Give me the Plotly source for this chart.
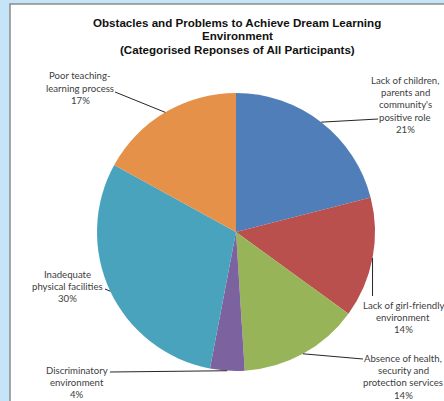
import math
import plotly.graph_objects as go

W, H = 444, 401

# Survey categories (clockwise from 12 o'clock) and their shares in percent
categories = [
    "Lack of children, parents and community's positive role",
    "Lack of girl-friendly environment",
    "Absence of health, security and protection services",
    "Discriminatory environment",
    "Inadequate physical facilities",
    "Poor teaching-learning process",
]
shares = [21, 14, 14, 4, 30, 17]
label_lines = [
    ["Lack of children,", "parents and", "community's", "positive role"],
    ["Lack of girl-friendly", "environment"],
    ["Absence of health,", "security and", "protection services"],
    ["Discriminatory", "environment"],
    ["Inadequate", "physical facilities"],
    ["Poor teaching-", "learning process"],
]
colors = ["#4F7EB8", "#B9504D", "#98B458", "#7D62A0", "#4AA3BC", "#E5914A"]

# pie geometry in pixels
CX, CY, R = 236, 232, 139

# label block centres (x, first line y) and leader-line start points
label_pos = [(405, 80), (403, 305), (403, 358), (77, 370), (67, 274), (80, 76)]
leader_start = [(378, 119), (None, 296), (363, 359), (110, 372), (105, 289), (115, 92)]


def px(x):
    return x / W


def py(y):
    return 1 - y / H


fig = go.Figure()
fig.add_trace(go.Pie(
    labels=categories,
    values=shares,
    sort=False,
    direction="clockwise",
    rotation=0,
    marker=dict(colors=colors, line=dict(width=0)),
    textinfo="none",
    hoverinfo="label+percent",
    showlegend=False,
    domain=dict(x=[px(CX - R), px(CX + R)], y=[py(CY + R), py(CY - R)]),
))

shapes = [
    # white chart panel with grey frame
    dict(type="rect", xref="paper", yref="paper",
         x0=px(10), x1=px(W + 20), y0=py(H + 20), y1=py(4),
         fillcolor="white", line=dict(color="#8a8a8a", width=1.5), layer="below"),
]

annotations = []
total = sum(shares)
cum = 0
line_h = 12.4
for i, v in enumerate(shares):
    mid = (cum + v / 2) / total * 2 * math.pi
    cum += v
    ex = CX + R * math.sin(mid)
    ey = CY - R * math.cos(mid)
    sx, sy = leader_start[i]
    if sx is None:
        sx = ex
    shapes.append(dict(type="line", xref="paper", yref="paper",
                       x0=px(sx), y0=py(sy), x1=px(ex), y1=py(ey),
                       line=dict(color="#262626", width=1)))
    lx, ly = label_pos[i]
    lines = label_lines[i] + [f"{v}%"]
    for k, t in enumerate(lines):
        annotations.append(dict(
            text=t, xref="paper", yref="paper",
            x=px(lx), y=py(ly + k * line_h), xanchor="center", yanchor="middle",
            showarrow=False, font=dict(family="Lato", size=9.6, color="#404040"),
        ))

title_lines = [
    "Obstacles and Problems to Achieve Dream Learning",
    "Environment",
    "(Categorised Reponses of All Participants)",
]
for k, t in enumerate(title_lines):
    annotations.append(dict(
        text=f"<b>{t}</b>", xref="paper", yref="paper",
        x=px(237), y=py(23 + k * 13), xanchor="center", yanchor="middle",
        showarrow=False, font=dict(family="Liberation Sans", size=11.6, color="#111111"),
    ))

fig.update_layout(
    width=W, height=H,
    margin=dict(l=0, r=0, t=0, b=0),
    paper_bgcolor="#C6E4F7",
    plot_bgcolor="white",
    shapes=shapes,
    annotations=annotations,
)

fig.write_html("out.html")
